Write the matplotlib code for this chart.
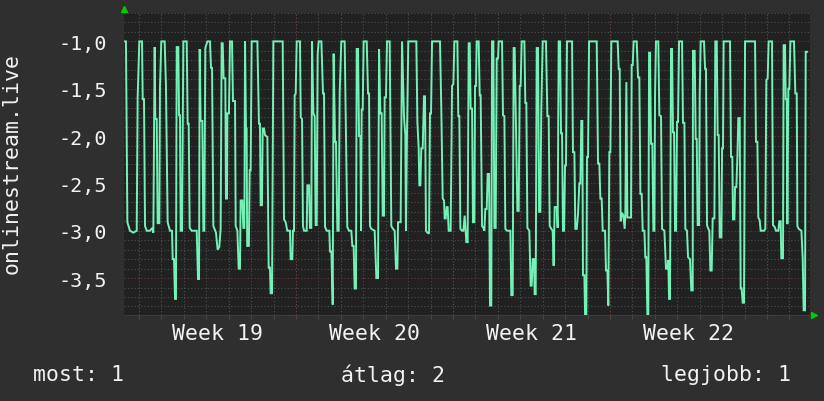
import matplotlib.pyplot as plt
from matplotlib.ticker import MultipleLocator, FixedLocator, FuncFormatter

# time in hours from the left edge of the graph
hours = [
    1.1, 2.1, 3.6, 6.4, 10.0, 13.6, 14.6, 16.4, 19.3, 20.0,
    21.4, 22.5, 24.3, 27.8, 30.3, 31.4, 32.8, 33.5, 35.0, 36.0,
    37.8, 38.5, 39.9, 43.5, 44.9, 46.7, 49.2, 51.4, 52.1, 53.5,
    54.6, 55.6, 56.4, 58.1, 58.9, 59.9, 60.6, 62.1, 63.5, 67.1,
    68.1, 69.2, 70.3, 72.4, 77.8, 79.2, 80.3, 81.0, 82.0, 83.8,
    84.9, 85.9, 87.0, 89.2, 92.0, 93.1, 94.2, 95.6, 98.4, 100.2,
    102.0, 103.4, 104.5, 105.6, 106.6, 108.4, 109.1, 110.2, 110.6, 112.3,
    113.4, 115.6, 116.6, 118.8, 119.5, 121.3,
    122.7, 124.1, 124.8, 126.6, 127.7, 128.8, 129.5, 130.5, 131.2, 131.8,
    133.6, 134.5, 135.5, 136.6, 142.7, 144.4, 145.5, 146.2, 147.6, 148.4,
    149.8, 150.9, 153.4, 154.8, 156.2, 156.9, 158.4, 159.8, 169.8, 171.2,
    173.0, 174.7, 177.6, 178.3, 180.1, 180.8, 181.9, 182.6, 183.7, 184.8,
    188.3, 189.1, 190.5, 191.5, 192.6, 195.5, 196.2, 198.0, 199.0, 200.4,
    201.2, 202.6, 204.0, 205.1, 206.2, 207.2, 208.3, 211.2, 212.9, 214.0,
    215.1, 216.9, 219.7, 220.4, 221.9, 223.3, 224.3, 225.8, 226.8, 228.3,
    229.7, 230.8, 232.5, 236.1, 237.2, 238.9, 240.7, 243.2,
    244.3, 245.7, 246.8, 248.2, 249.0, 250.4, 251.5, 252.9, 253.6, 254.3,
    255.4, 256.4, 259.7, 261.1, 262.2, 263.2, 264.6, 268.2, 270.0, 271.8,
    272.9, 274.3, 275.7, 276.8, 278.2, 278.9, 280.3, 281.4, 284.3, 286.0,
    287.8, 289.6, 291.0, 292.5, 293.2, 296.0, 297.5, 299.6, 301.0, 301.7,
    302.8, 304.2, 312.8, 313.9, 315.3, 316.0, 317.1, 318.1, 319.6, 321.0,
    322.1, 323.1, 324.6, 326.4, 327.4, 328.5, 329.6, 338.1, 339.5, 341.0,
    342.4, 343.1, 344.2, 345.3, 346.3, 347.4, 349.5, 351.0, 352.4, 353.5,
    356.7, 357.7, 358.8, 359.9, 361.7, 363.1, 364.5,
    366.3, 367.7, 368.8, 369.9, 370.9, 372.4, 373.4, 374.9, 375.6, 376.6,
    377.4, 379.5, 380.6, 381.6, 383.1, 384.5, 385.6, 386.6, 388.1, 389.1,
    390.6, 391.6, 393.0, 393.8, 395.2, 396.3, 397.7, 398.8, 400.2, 400.9,
    404.5, 405.5, 407.0, 408.0, 409.8, 413.4, 414.4, 415.9, 416.9, 418.0,
    419.4, 420.9, 422.3, 423.4, 424.4, 425.5, 428.4, 429.4, 430.5, 431.6,
    433.7, 435.1, 436.2, 437.3, 438.7, 439.4, 440.5, 441.6, 443.0, 444.1,
    445.5, 446.5, 448.0, 451.5, 453.0, 454.4, 455.5, 457.2, 458.7, 459.7,
    460.8, 463.0, 464.0, 465.1, 466.5, 467.6, 468.7, 469.7, 470.8, 471.9,
    472.9, 474.0, 479.4, 480.4, 481.9, 482.9, 484.4, 485.8, 487.2,
    488.3, 489.3, 490.4, 491.1, 492.6, 493.3, 494.7, 495.4, 496.5, 497.6,
    505.8, 507.2, 508.6, 509.7, 511.1, 512.2, 514.7, 515.7, 517.2, 518.2,
    519.3, 520.4, 521.4, 528.2, 529.3, 530.4, 531.4, 532.9, 534.3, 535.7,
    536.4, 537.5, 538.6, 542.5, 543.2, 544.3, 545.3, 548.6, 550.0, 551.4,
    552.5, 553.9, 555.0, 556.8, 557.8, 558.9, 560.0, 561.0, 561.8, 562.8,
    563.9, 565.3, 566.4, 567.5, 568.2, 569.2, 571.7, 572.8, 574.6, 575.7,
    578.2, 579.9, 581.4, 582.4, 583.2, 584.2, 585.3, 586.4, 587.4, 588.5,
    589.6, 590.6, 591.7, 592.8, 593.9, 597.1, 598.1, 599.6, 600.6, 602.4,
    603.5, 605.6, 607.0, 608.5,
    608.8, 610.6, 611.7, 612.8, 613.8, 615.3, 616.0, 617.0, 620.6, 621.7,
    622.7, 623.8, 625.2, 626.3, 627.4, 628.8, 629.9, 631.7, 632.7, 634.2,
    635.2, 636.3, 637.4, 639.2, 639.9, 640.9, 641.6, 648.4, 649.5, 650.9,
    651.6, 653.1, 653.8, 655.2, 656.3, 657.3, 658.8, 659.8, 660.9, 662.0,
    663.4, 664.5, 675.2, 676.2, 677.7, 678.7, 680.2, 681.2, 684.8, 686.2,
    687.3, 688.7, 689.8, 693.4, 694.4, 696.2, 697.6, 700.1, 701.2, 702.6,
    703.3, 705.1, 705.8, 707.3, 708.0, 709.1, 709.8, 710.8, 711.9, 713.0,
    716.9, 718.3, 719.8, 720.5, 721.9, 724.8, 726.2, 727.2, 728.7, 729.4,
    730.8,
]
values = [
    -1.0, -1.0, -2.91, -3.0, -3.02, -3.0, -1.59, -1.0, -1.0, -1.61,
    -1.61, -2.95, -3.0, -3.0, -2.97, -3.02, -1.06, -1.82, -1.82, -2.92,
    -2.92, -1.48, -1.0, -1.0, -1.47, -2.91, -3.0, -3.0, -3.3, -3.3,
    -3.72, -3.72, -1.06, -1.06, -1.78, -1.78, -3.0, -3.0, -1.0, -1.0,
    -1.87, -1.87, -2.97, -3.0, -3.0, -3.51, -3.51, -1.08, -1.84, -1.84,
    -3.0, -3.0, -1.07, -1.0, -1.0, -1.28, -1.28, -2.95, -3.02, -3.2,
    -3.17, -2.98, -1.02, -1.02, -1.39, -1.39, -2.66, -2.66, -1.76, -1.76,
    -1.0, -1.0, -1.63, -1.63, -2.95, -3.0,
    -3.4, -3.4, -2.68, -2.68, -2.97, -2.97, -1.0, -1.92, -1.92, -3.16,
    -3.16, -2.36, -2.36, -1.0, -1.0, -1.87, -1.87, -2.73, -2.73, -1.92,
    -1.92, -1.99, -2.01, -3.39, -3.39, -3.66, -3.66, -1.0, -1.0, -2.88,
    -2.91, -3.0, -3.0, -3.3, -3.3, -3.0, -3.0, -1.57, -1.55, -1.0,
    -1.0, -1.8, -1.82, -2.95, -3.0, -3.0, -2.52, -2.52, -2.97, -2.97,
    -1.0, -1.76, -1.79, -2.94, -2.94, -1.14, -1.0, -1.0, -1.55, -1.55,
    -2.96, -3.0, -3.0, -3.22, -3.22, -3.78, -1.13, -2.06, -2.06, -3.0,
    -3.0, -1.54, -1.0, -1.0, -1.78, -2.96, -3.0, -3.0,
    -3.16, -3.16, -3.61, -3.61, -1.08, -1.08, -2.0, -2.0, -3.0, -1.72,
    -1.72, -1.0, -1.0, -1.55, -1.55, -2.95, -2.98, -3.0, -3.5, -3.5,
    -1.08, -1.76, -1.76, -2.84, -2.84, -1.59, -1.59, -1.0, -1.0, -2.95,
    -2.98, -3.0, -3.4, -3.4, -2.91, -2.91, -1.0, -1.8, -1.99, -3.0,
    -1.99, -1.0, -1.0, -1.85, -2.13, -2.52, -2.52, -2.13, -2.13, -1.58,
    -1.58, -3.0, -3.02, -3.03, -1.76, -1.76, -1.0, -1.0, -1.71, -2.66,
    -2.68, -2.87, -2.87, -2.75, -2.75, -3.0, -3.0, -1.47, -1.45, -1.0,
    -1.0, -1.79, -1.79, -2.98, -3.0, -3.0, -2.84,
    -3.12, -3.12, -1.02, -1.02, -1.71, -1.71, -2.91, -2.91, -1.47, -1.47,
    -1.0, -1.0, -1.57, -1.57, -2.95, -2.97, -3.0, -2.77, -2.77, -2.4,
    -2.4, -3.79, -3.79, -1.0, -1.0, -2.97, -2.97, -1.18, -1.18, -1.0,
    -1.0, -1.78, -1.79, -2.98, -3.0, -3.0, -3.68, -3.68, -1.07, -1.07,
    -1.89, -2.79, -2.79, -1.47, -1.47, -1.0, -1.0, -1.65, -1.65, -2.97,
    -3.0, -3.58, -3.58, -3.3, -3.3, -3.67, -3.67, -1.07, -1.07, -2.8,
    -2.8, -1.71, -1.0, -1.0, -1.79, -1.79, -2.95, -2.98, -3.0, -3.37,
    -2.75, -2.75, -2.97, -1.0, -1.0, -1.97, -1.97, -3.0, -3.0, -2.31,
    -2.31, -1.0, -1.0, -2.17, -2.17, -2.98, -2.98, -2.82, -2.5,
    -2.5, -1.84, -1.84, -3.47, -3.47, -3.88, -3.88, -2.22, -2.22, -1.0,
    -1.0, -2.29, -2.29, -2.66, -2.66, -3.0, -3.0, -3.42, -3.42, -3.79,
    -2.17, -2.17, -1.0, -1.0, -1.29, -1.29, -2.9, -2.81, -2.84, -2.98,
    -2.84, -1.43, -2.86, -2.86, -1.25, -1.25, -1.0, -1.0, -1.38, -1.38,
    -2.61, -2.61, -3.0, -3.0, -3.28, -3.28, -3.88, -3.88, -1.12, -1.12,
    -2.08, -2.08, -3.0, -3.0, -1.57, -1.0, -1.0, -1.78, -1.79, -2.98,
    -3.0, -3.4, -3.4, -3.31, -3.72, -3.72, -1.08, -1.08, -1.96, -1.96,
    -3.0, -3.0, -1.85, -1.85, -1.0, -1.0, -1.86, -1.86, -2.98, -3.0,
    -3.28, -3.3, -3.63, -3.63,
    -1.1, -1.1, -2.03, -2.03, -2.94, -2.94, -1.57, -1.0, -1.0, -1.29,
    -1.29, -2.94, -2.98, -3.0, -3.42, -3.42, -2.87, -2.87, -1.0, -1.0,
    -1.99, -1.99, -3.07, -3.07, -2.13, -2.13, -1.0, -1.0, -2.22, -2.22,
    -2.88, -2.88, -2.54, -2.54, -2.22, -1.81, -1.81, -3.61, -3.61, -3.76,
    -3.76, -1.0, -1.0, -2.06, -2.06, -2.86, -2.89, -3.0, -3.0, -2.98,
    -1.41, -1.39, -1.0, -1.0, -2.94, -2.96, -3.0, -3.0, -2.9, -2.9,
    -3.29, -3.29, -1.04, -1.04, -1.61, -1.61, -2.93, -1.5, -1.5, -1.0,
    -1.0, -1.55, -1.55, -2.95, -2.98, -3.0, -3.29, -3.84, -3.84, -1.11,
    -1.11,
]
assert len(hours) == len(values)

week_starts = [16, 184, 352, 520, 688]
week_mids = [100, 268, 436, 604]
week_labels = ['Week 19', 'Week 20', 'Week 21', 'Week 22']
series_name = 'onlinestream.live'
stats = ['most: 1', 'átlag: 2', 'legjobb: 1']

plt.rcParams['font.family'] = 'DejaVu Sans Mono'
txt = '#f2f2f2'
fs = 15.5

fig = plt.figure(figsize=(8.24, 4.02), dpi=100, facecolor='#2f2f2f')
ax = fig.add_axes([124 / 824, 86 / 402, 686 / 824, 302 / 402])
ax.set_facecolor('#212121')

ax.plot(hours, values, color='#72f2b7', lw=1.4, zorder=3, solid_joinstyle='miter')
ax.set_xlim(0, 734)
ax.set_ylim(-3.89, -0.70)

# y grid: thin every 0.1, red every 0.5
ax.yaxis.set_major_locator(MultipleLocator(0.5))
ax.yaxis.set_minor_locator(MultipleLocator(0.1))
ax.yaxis.set_major_formatter(FuncFormatter(lambda v, p: f'{v:.1f}'.replace('.', ',')))
ax.grid(which='minor', axis='y', color='#505050', ls=(0, (1, 2)), lw=0.8)
ax.grid(which='major', axis='y', color='#7a3434', ls=(0, (1, 2)), lw=0.8)

# x: one line per day, red at week start, labels mid-week
days = [week_starts[0] + 24 * k for k in range(30)]
ax.xaxis.set_major_locator(FixedLocator(week_mids))
ax.set_xticklabels(week_labels)
ax.xaxis.set_minor_locator(FixedLocator(days))
ax.grid(which='minor', axis='x', color='#505050', ls=(0, (1, 2)), lw=0.8)
for ws in week_starts:
    ax.axvline(ws, color='#7a3434', ls=(0, (1, 2)), lw=0.8, zorder=1)
ax.set_axisbelow(True)

ax.tick_params(axis='x', which='major', length=0, pad=6, labelsize=fs, labelcolor=txt)
ax.tick_params(axis='x', which='minor', length=3, color='#505050', direction='out')
for t in ax.xaxis.get_minor_ticks():
    if t.get_loc() in week_starts:
        t.tick1line.set_color('#8a3030')
ax.tick_params(axis='y', which='both', length=0, pad=12, labelsize=14.5, labelcolor=txt)

for s in ax.spines.values():
    s.set_visible(False)
ax.spines['bottom'].set_visible(True)
ax.spines['bottom'].set_color('#3c3c3c')

# little green arrows at the axis ends
ax.plot([0], [1.013], marker='^', ms=5, color='#00cc00', transform=ax.transAxes, clip_on=False)
ax.plot([1.006], [0], marker='>', ms=5, color='#00cc00', transform=ax.transAxes, clip_on=False)

fig.text(12 / 824, 1 - 164 / 402, series_name, rotation=90, ha='center', va='center',
         fontsize=fs, color=txt)

fig.text(33 / 824, 1 - 375 / 402, stats[0], ha='left', va='center', fontsize=fs, color=txt)
fig.text(393 / 824, 1 - 375 / 402, stats[1], ha='center', va='center', fontsize=fs, color=txt)
fig.text(791 / 824, 1 - 375 / 402, stats[2], ha='right', va='center', fontsize=fs, color=txt)

fig.savefig('out.png', dpi=100, facecolor=fig.get_facecolor())
